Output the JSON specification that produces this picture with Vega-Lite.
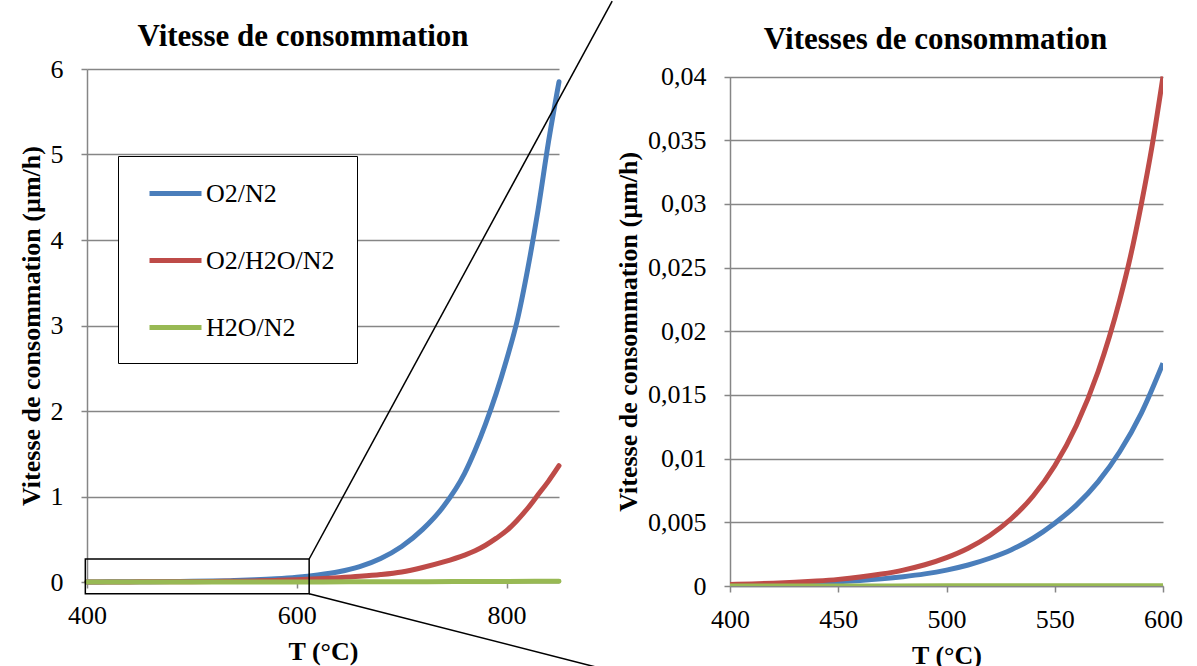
{
  "$schema": "https://vega.github.io/schema/vega-lite/v6.json",
  "autosize": {"type": "pad"},
  "padding": {"left": 18, "top": 0, "right": 0, "bottom": 0},
  "background": "white",
  "bounds": "flush",
  "spacing": 171,
  "datasets": {
    "gauche": [
      {"T": 400, "serie": "O2/N2", "v": 0.001}, {"T": 420, "serie": "O2/N2", "v": 0.0015}, {"T": 440, "serie": "O2/N2", "v": 0.0022}, {"T": 460, "serie": "O2/N2", "v": 0.0033}, {"T": 480, "serie": "O2/N2", "v": 0.005}, {"T": 500, "serie": "O2/N2", "v": 0.0075}, {"T": 520, "serie": "O2/N2", "v": 0.011}, {"T": 540, "serie": "O2/N2", "v": 0.017}, {"T": 560, "serie": "O2/N2", "v": 0.025}, {"T": 580, "serie": "O2/N2", "v": 0.037}, {"T": 600, "serie": "O2/N2", "v": 0.055}, {"T": 620, "serie": "O2/N2", "v": 0.082}, {"T": 640, "serie": "O2/N2", "v": 0.12}, {"T": 660, "serie": "O2/N2", "v": 0.18}, {"T": 680, "serie": "O2/N2", "v": 0.275}, {"T": 700, "serie": "O2/N2", "v": 0.415}, {"T": 720, "serie": "O2/N2", "v": 0.615}, {"T": 740, "serie": "O2/N2", "v": 0.885}, {"T": 760, "serie": "O2/N2", "v": 1.27}, {"T": 770, "serie": "O2/N2", "v": 1.54}, {"T": 780, "serie": "O2/N2", "v": 1.85}, {"T": 790, "serie": "O2/N2", "v": 2.2}, {"T": 800, "serie": "O2/N2", "v": 2.6}, {"T": 810, "serie": "O2/N2", "v": 3.05}, {"T": 820, "serie": "O2/N2", "v": 3.65}, {"T": 830, "serie": "O2/N2", "v": 4.35}, {"T": 840, "serie": "O2/N2", "v": 5.15}, {"T": 850, "serie": "O2/N2", "v": 5.85},
      {"T": 400, "serie": "O2/H2O/N2", "v": 0.0005}, {"T": 420, "serie": "O2/H2O/N2", "v": 0.0008}, {"T": 440, "serie": "O2/H2O/N2", "v": 0.0012}, {"T": 460, "serie": "O2/H2O/N2", "v": 0.0018}, {"T": 480, "serie": "O2/H2O/N2", "v": 0.0027}, {"T": 500, "serie": "O2/H2O/N2", "v": 0.004}, {"T": 520, "serie": "O2/H2O/N2", "v": 0.006}, {"T": 540, "serie": "O2/H2O/N2", "v": 0.0088}, {"T": 560, "serie": "O2/H2O/N2", "v": 0.013}, {"T": 580, "serie": "O2/H2O/N2", "v": 0.019}, {"T": 600, "serie": "O2/H2O/N2", "v": 0.027}, {"T": 620, "serie": "O2/H2O/N2", "v": 0.037}, {"T": 640, "serie": "O2/H2O/N2", "v": 0.05}, {"T": 660, "serie": "O2/H2O/N2", "v": 0.066}, {"T": 680, "serie": "O2/H2O/N2", "v": 0.087}, {"T": 700, "serie": "O2/H2O/N2", "v": 0.118}, {"T": 720, "serie": "O2/H2O/N2", "v": 0.17}, {"T": 740, "serie": "O2/H2O/N2", "v": 0.235}, {"T": 760, "serie": "O2/H2O/N2", "v": 0.315}, {"T": 770, "serie": "O2/H2O/N2", "v": 0.365}, {"T": 780, "serie": "O2/H2O/N2", "v": 0.43}, {"T": 790, "serie": "O2/H2O/N2", "v": 0.51}, {"T": 800, "serie": "O2/H2O/N2", "v": 0.6}, {"T": 810, "serie": "O2/H2O/N2", "v": 0.72}, {"T": 820, "serie": "O2/H2O/N2", "v": 0.86}, {"T": 830, "serie": "O2/H2O/N2", "v": 1.02}, {"T": 840, "serie": "O2/H2O/N2", "v": 1.18}, {"T": 850, "serie": "O2/H2O/N2", "v": 1.36},
      {"T": 400, "serie": "H2O/N2", "v": 0.0}, {"T": 500, "serie": "H2O/N2", "v": 0.0003}, {"T": 600, "serie": "H2O/N2", "v": 0.001}, {"T": 650, "serie": "H2O/N2", "v": 0.002}, {"T": 700, "serie": "H2O/N2", "v": 0.003}, {"T": 750, "serie": "H2O/N2", "v": 0.0045}, {"T": 800, "serie": "H2O/N2", "v": 0.006}, {"T": 850, "serie": "H2O/N2", "v": 0.009}
    ],
    "droite": [
      {"T": 400, "serie": "O2/N2", "v": 0.00008}, {"T": 410, "serie": "O2/N2", "v": 0.00011}, {"T": 420, "serie": "O2/N2", "v": 0.00014}, {"T": 430, "serie": "O2/N2", "v": 0.00019}, {"T": 440, "serie": "O2/N2", "v": 0.00025}, {"T": 450, "serie": "O2/N2", "v": 0.00033}, {"T": 460, "serie": "O2/N2", "v": 0.00043}, {"T": 470, "serie": "O2/N2", "v": 0.00056}, {"T": 480, "serie": "O2/N2", "v": 0.00073}, {"T": 490, "serie": "O2/N2", "v": 0.00095}, {"T": 500, "serie": "O2/N2", "v": 0.00125}, {"T": 510, "serie": "O2/N2", "v": 0.00165}, {"T": 520, "serie": "O2/N2", "v": 0.00218}, {"T": 530, "serie": "O2/N2", "v": 0.00285}, {"T": 540, "serie": "O2/N2", "v": 0.00375}, {"T": 550, "serie": "O2/N2", "v": 0.00493}, {"T": 560, "serie": "O2/N2", "v": 0.00635}, {"T": 570, "serie": "O2/N2", "v": 0.00818}, {"T": 580, "serie": "O2/N2", "v": 0.01054}, {"T": 590, "serie": "O2/N2", "v": 0.01358}, {"T": 600, "serie": "O2/N2", "v": 0.0175},
      {"T": 400, "serie": "O2/H2O/N2", "v": 0.00012}, {"T": 410, "serie": "O2/H2O/N2", "v": 0.00016}, {"T": 420, "serie": "O2/H2O/N2", "v": 0.00022}, {"T": 430, "serie": "O2/H2O/N2", "v": 0.00029}, {"T": 440, "serie": "O2/H2O/N2", "v": 0.00039}, {"T": 450, "serie": "O2/H2O/N2", "v": 0.00052}, {"T": 460, "serie": "O2/H2O/N2", "v": 0.0007}, {"T": 470, "serie": "O2/H2O/N2", "v": 0.00094}, {"T": 480, "serie": "O2/H2O/N2", "v": 0.00125}, {"T": 490, "serie": "O2/H2O/N2", "v": 0.00167}, {"T": 500, "serie": "O2/H2O/N2", "v": 0.00223}, {"T": 510, "serie": "O2/H2O/N2", "v": 0.00297}, {"T": 520, "serie": "O2/H2O/N2", "v": 0.00397}, {"T": 530, "serie": "O2/H2O/N2", "v": 0.0053}, {"T": 540, "serie": "O2/H2O/N2", "v": 0.00707}, {"T": 550, "serie": "O2/H2O/N2", "v": 0.00944}, {"T": 560, "serie": "O2/H2O/N2", "v": 0.0126}, {"T": 570, "serie": "O2/H2O/N2", "v": 0.01682}, {"T": 580, "serie": "O2/H2O/N2", "v": 0.02245}, {"T": 585, "serie": "O2/H2O/N2", "v": 0.0259}, {"T": 590, "serie": "O2/H2O/N2", "v": 0.03}, {"T": 595, "serie": "O2/H2O/N2", "v": 0.0346}, {"T": 600, "serie": "O2/H2O/N2", "v": 0.04},
      {"T": 400, "serie": "H2O/N2", "v": 0.0}, {"T": 450, "serie": "H2O/N2", "v": 0.0}, {"T": 500, "serie": "H2O/N2", "v": 0.00001}, {"T": 550, "serie": "H2O/N2", "v": 0.00001}, {"T": 600, "serie": "H2O/N2", "v": 0.00002}
    ],
    "zoom": [{"t1": 398.4, "t2": 611.8, "v1": -0.137, "v2": 0.269}],
    "liens": [
      {"t1": 611.8, "v1": 0.269, "t2": 900.7, "v2": 6.795},
      {"t1": 611.8, "v1": -0.137, "t2": 900, "v2": -1.04}
    ]
  },
  "config": {
    "font": "Liberation Serif",
    "view": {"stroke": null},
    "axis": {
      "labelFont": "Liberation Serif", "labelFontSize": 26, "labelColor": "black",
      "titleFont": "Liberation Serif", "titleFontSize": 26, "titleFontWeight": "bold", "titleColor": "black",
      "domainColor": "#868686", "domainWidth": 1.5, "tickColor": "#868686", "tickWidth": 1.5, "tickSize": 6,
      "gridColor": "#868686", "gridWidth": 1.6
    },
    "title": {"font": "Liberation Serif", "fontSize": 31, "fontWeight": "bold", "color": "black", "anchor": "middle", "frame": "group", "baseline": "alphabetic", "offset": 21}
  },
  "hconcat": [
    {
      "width": 472,
      "height": 513,
      "title": {"text": "Vitesse de consommation", "dx": -20, "dy": 74},
      "layer": [
        {
          "data": {"name": "gauche"},
          "mark": {"type": "line", "strokeWidth": 5, "strokeCap": "round", "interpolate": "monotone"},
          "encoding": {
            "x": {"field": "T", "type": "quantitative", "title": "T (°C)",
                  "scale": {"domain": [400, 850], "nice": false, "zero": false},
                  "axis": {"values": [400, 600, 800], "grid": false, "labelPadding": 14, "titlePadding": 10, "labelFlush": false}},
            "y": {"field": "v", "type": "quantitative", "title": "Vitesse de consommation (µm/h)",
                  "scale": {"domain": [0, 6], "nice": false},
                  "axis": {"values": [0, 1, 2, 3, 4, 5, 6], "format": "d", "grid": true, "labelPadding": 18, "titlePadding": 6}},
            "color": {"field": "serie", "type": "nominal",
                      "scale": {"domain": ["O2/N2", "O2/H2O/N2", "H2O/N2"], "range": ["#4A7EBB", "#BE4B48", "#98B954"]},
                      "legend": {"orient": "none", "legendX": 31, "legendY": 87, "title": null,
                                 "symbolType": "M-2,0H2", "symbolSize": 676, "symbolStrokeWidth": 5,
                                 "labelFontSize": 26, "labelFont": "Liberation Serif", "labelColor": "black",
                                 "padding": 22, "rowPadding": 38, "symbolOffset": 20, "labelOffset": 15,
                                 "strokeColor": "black", "fillColor": "white"}},
            "order": {"field": "T", "type": "quantitative"}
          }
        },
        {
          "data": {"name": "zoom"},
          "mark": {"type": "rect", "filled": false, "stroke": "black", "strokeWidth": 1.5, "clip": false},
          "encoding": {
            "x": {"field": "t1", "type": "quantitative", "title": "T (°C)"},
            "x2": {"field": "t2"},
            "y": {"field": "v1", "type": "quantitative", "title": "Vitesse de consommation (µm/h)"},
            "y2": {"field": "v2"}
          }
        },
        {
          "data": {"name": "liens"},
          "mark": {"type": "rule", "stroke": "black", "strokeWidth": 1.5, "clip": false},
          "encoding": {
            "x": {"field": "t1", "type": "quantitative", "title": "T (°C)"},
            "x2": {"field": "t2"},
            "y": {"field": "v1", "type": "quantitative", "title": "Vitesse de consommation (µm/h)"},
            "y2": {"field": "v2"}
          }
        }
      ]
    },
    {
      "width": 433,
      "height": 517,
      "title": {"text": "Vitesses de consommation", "dx": -11, "dy": 13},
      "data": {"name": "droite"},
      "mark": {"type": "line", "strokeWidth": 5, "interpolate": "monotone", "clip": true},
      "encoding": {
        "x": {"field": "T", "type": "quantitative", "title": "T (°C)",
              "scale": {"domain": [400, 600], "nice": false, "zero": false},
              "axis": {"values": [400, 450, 500, 550, 600], "grid": false, "labelPadding": 14, "titlePadding": 10, "labelFlush": false}},
        "y": {"field": "v", "type": "quantitative", "title": "Vitesse de consommation (µm/h)",
              "scale": {"domain": [0, 0.04], "nice": false, "range": [517, 7.6]},
              "axis": {"values": [0, 0.005, 0.01, 0.015, 0.02, 0.025, 0.03, 0.035, 0.04], "grid": true, "labelPadding": 18, "titlePadding": 6,
                       "labelExpr": "replace(format(datum.value, '~g'), '.', ',')"}},
        "color": {"field": "serie", "type": "nominal",
                  "scale": {"domain": ["O2/N2", "O2/H2O/N2", "H2O/N2"], "range": ["#4A7EBB", "#BE4B48", "#98B954"]},
                  "legend": null},
        "order": {"field": "T", "type": "quantitative"}
      }
    }
  ]
}
